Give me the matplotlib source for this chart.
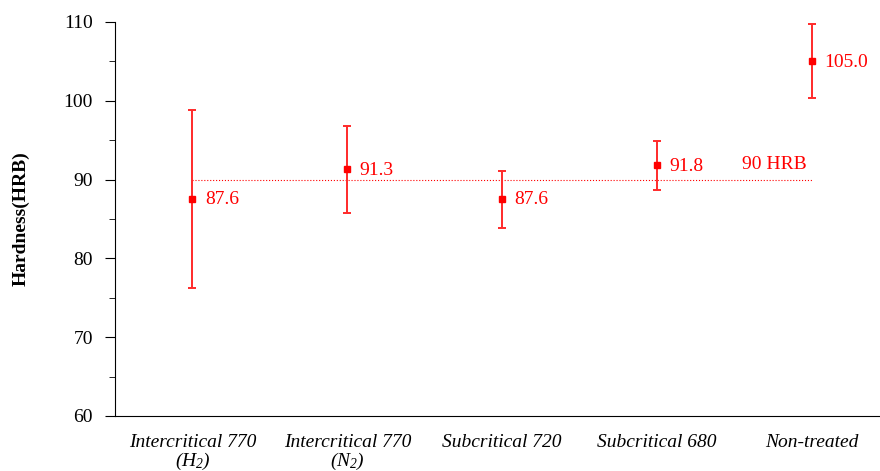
import numpy as np
import matplotlib.pyplot as plt

categories = ['Intercritical 770\n($H_2$)', 'Intercritical 770\n($N_2$)',
              'Subcritical 720', 'Subcritical 680', 'Non-treated']
hardness = [87.6, 91.3, 87.6, 91.8, 105.0]
upper = [98.8, 96.8, 91.1, 94.9, 109.7]
lower = [76.2, 85.8, 83.9, 88.7, 100.4]
target = 90

plt.rcParams['font.family'] = 'Liberation Serif'
plt.rcParams['mathtext.fontset'] = 'custom'
plt.rcParams['mathtext.rm'] = 'Liberation Serif:italic'
plt.rcParams['mathtext.it'] = 'Liberation Serif:italic'

x = np.arange(len(categories))
h = np.array(hardness)
yerr = [h - np.array(lower), np.array(upper) - h]

fig = plt.figure(figsize=(8.8, 4.71), dpi=100)
ax = fig.add_axes([0.1307, 0.1168, 0.8693, 0.8365])

ax.plot([x[0], x[-1]], [target, target], ':', color='red', lw=0.8)
ax.text(x[-1] - 0.03, target + 0.9, '90 HRB', color='red', fontsize=14,
        ha='right', va='bottom')

ax.errorbar(x, h, yerr=yerr, fmt='s', color='red', ecolor='#ff2a2a',
            markersize=4.5, elinewidth=1.4, capsize=3, capthick=1.4)
for xi, v in zip(x, hardness):
    ax.annotate(f'{v:.1f}', (xi, v), xytext=(9, -1), textcoords='offset points',
                color='red', fontsize=14, va='center', ha='left')

ax.set_xlim(-0.5, 4.44)
ax.set_ylim(60, 110)
ax.set_yticks(np.arange(60, 111, 10))
ax.set_yticks(np.arange(65, 110, 10), minor=True)
ax.set_xticks(x)
ax.set_xticklabels(categories, fontstyle='italic', fontsize=14, linespacing=1.0)
ax.tick_params(axis='x', length=0, pad=13)
ax.tick_params(axis='y', which='major', length=7, labelsize=14, direction='out', pad=9)
ax.tick_params(axis='y', which='minor', length=4, direction='out')
ax.spines['top'].set_visible(False)
ax.spines['right'].set_visible(False)
ax.set_ylabel('Hardness(HRB)', fontsize=14, fontweight='bold', labelpad=24)

fig.savefig('out.png', dpi=100)
